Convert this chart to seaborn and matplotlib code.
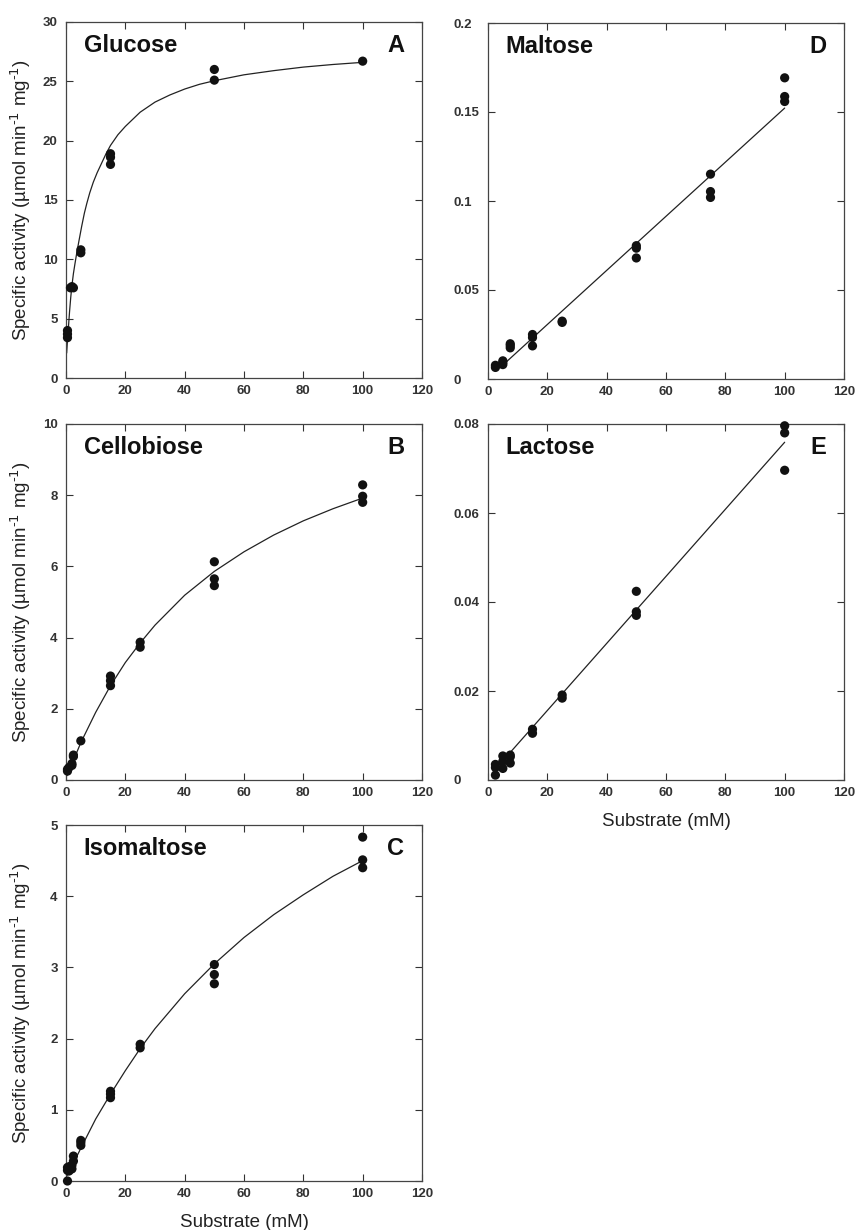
import matplotlib
matplotlib.use("Agg")
import matplotlib.pyplot as plt
import seaborn as sns

# ---------- data ----------
# x = substrate (mM), y = specific activity

# A - glucose
glc_x = [0.5, 0.5, 0.5, 1.5, 2, 2.5, 5, 5, 15, 15, 15, 50, 50, 100]
glc_y = [3.4, 3.7, 4.0, 7.6, 7.7, 7.6, 10.55, 10.8, 18.0, 18.6, 18.9, 26.0, 25.1, 26.7]
glc_fit_x = [0.22, 0.5, 0.8, 1.2, 1.6, 2.0, 2.5, 3.0, 3.6, 4.4, 5.3, 6.2, 7.0, 8.0, 9.2,
             10.5, 12, 13.5, 15, 17.5, 20, 25, 30, 35, 40, 45, 50, 60, 70, 80, 90, 100]
glc_fit_y = [2.1, 3.2, 4.2, 5.6, 6.8, 7.8, 8.8, 9.6, 10.5, 11.6, 12.8, 13.9, 14.7, 15.6, 16.5,
             17.3, 18.1, 18.9, 19.6, 20.5, 21.2, 22.4, 23.25, 23.85, 24.35, 24.75, 25.05,
             25.55, 25.9, 26.2, 26.42, 26.6]

# B - cellobiose
cel_x = [0.5, 0.5, 1, 2, 2, 2.5, 2.5, 5, 15, 15, 15, 25, 25, 50, 50, 50, 100, 100, 100]
cel_y = [0.25, 0.30, 0.35, 0.41, 0.46, 0.66, 0.70, 1.10, 2.65, 2.79, 2.92, 3.73, 3.87,
         6.13, 5.65, 5.46, 8.29, 7.97, 7.80]
cel_fit_x = [0.3, 1, 2.5, 5, 10, 15, 20, 25, 30, 40, 50, 60, 70, 80, 90, 100]
cel_fit_y = [0.12, 0.24, 0.55, 1.05, 1.9, 2.65, 3.3, 3.85, 4.35, 5.19, 5.86, 6.41, 6.88,
             7.28, 7.62, 7.92]

# C - isomaltose
iso_x = [0.5, 0.5, 0.5, 1, 1, 2, 2, 2.5, 2.5, 5, 5, 5, 15, 15, 15, 25, 25, 50, 50, 50,
         100, 100, 100]
iso_y = [0.0, 0.15, 0.19, 0.14, 0.2, 0.17, 0.22, 0.28, 0.35, 0.5, 0.54, 0.57, 1.17, 1.22,
         1.26, 1.87, 1.92, 3.04, 2.90, 2.77, 4.83, 4.51, 4.40]
iso_fit_x = [0.5, 1, 2.5, 5, 10, 15, 20, 25, 30, 40, 50, 60, 70, 80, 90, 100]
iso_fit_y = [0.08, 0.12, 0.25, 0.46, 0.87, 1.22, 1.55, 1.86, 2.14, 2.63, 3.05, 3.42, 3.74,
             4.02, 4.28, 4.50]

# D - maltose
mal_x = [2.5, 2.5, 5, 5, 5, 7.5, 7.5, 7.5, 15, 15, 15, 25, 25, 50, 50, 50,
         75, 75, 75, 100, 100, 100]
mal_y = [0.0065, 0.0077, 0.0081, 0.0092, 0.0102, 0.0175, 0.0188, 0.0198, 0.0186, 0.0233,
         0.0250, 0.0318, 0.0325, 0.0680, 0.0735, 0.0749, 0.1151, 0.1053, 0.1020,
         0.1692, 0.1587, 0.1559]
mal_fit_x = [4, 100]
mal_fit_y = [0.0063, 0.1522]

# E - lactose
lac_x = [2.5, 2.5, 2.5, 5, 5, 5, 7.5, 7.5, 7.5, 15, 15, 25, 25, 50, 50, 50, 100, 100, 100]
lac_y = [0.0011, 0.0028, 0.0035, 0.0026, 0.0042, 0.0054, 0.0038, 0.0052, 0.0056, 0.0105,
         0.0114, 0.0184, 0.0191, 0.0424, 0.0378, 0.0370, 0.0796, 0.0780, 0.0696]
lac_fit_x = [7.5, 100]
lac_fit_y = [0.0062, 0.0759]

x_ticks = [0, 20, 40, 60, 80, 100, 120]
glc_ticks = [0, 5, 10, 15, 20, 25, 30]
cel_ticks = [0, 2, 4, 6, 8, 10]
iso_ticks = [0, 1, 2, 3, 4, 5]
mal_ticks = [0, 0.05, 0.1, 0.15, 0.2]
mal_labels = ["0", "0.05", "0.1", "0.15", "0.2"]
lac_ticks = [0, 0.02, 0.04, 0.06, 0.08]
lac_labels = ["0", "0.02", "0.04", "0.06", "0.08"]

# ---------- style ----------
sns.set_theme(style="ticks")
plt.rcParams["font.family"] = ["Liberation Sans", "DejaVu Sans"]
plt.rcParams["mathtext.default"] = "regular"

fig = plt.figure(figsize=(8.58, 12.3), dpi=100)
W, H = 858, 1230
SIZE = 356


def make_ax(left, top):
    return fig.add_axes([left / W, 1 - (top + SIZE) / H, SIZE / W, SIZE / H])


panels = [
    # left, top, points, fit, yticks, ylabels, name, letter, left-aligned ticks, ylabel, xlabel
    (66, 22, glc_x, glc_y, glc_fit_x, glc_fit_y, glc_ticks, None, "Glucose", "A", False, True, False),
    (488, 23, mal_x, mal_y, mal_fit_x, mal_fit_y, mal_ticks, mal_labels, "Maltose", "D", True, False, False),
    (66, 424, cel_x, cel_y, cel_fit_x, cel_fit_y, cel_ticks, None, "Cellobiose", "B", False, True, False),
    (488, 424, lac_x, lac_y, lac_fit_x, lac_fit_y, lac_ticks, lac_labels, "Lactose", "E", True, False, True),
    (66, 825, iso_x, iso_y, iso_fit_x, iso_fit_y, iso_ticks, None, "Isomaltose", "C", False, True, True),
]

ylab = r"Specific activity (µmol min$^{\text{-1}}$ mg$^{\text{-1}}$)"

for (left, top, px, py, fx, fy, yt, yl, name, letter,
     left_ticks, show_ylab, show_xlab) in panels:
    ax = make_ax(left, top)

    sns.lineplot(x=fx, y=fy, ax=ax, color="#222222", linewidth=0.9,
                 sort=False, estimator=None)
    sns.scatterplot(x=px, y=py, ax=ax, color="#111111", s=44,
                    edgecolor="none", clip_on=False, zorder=3)

    ax.set_xlim(0, 120)
    ax.set_ylim(yt[0], yt[-1])
    ax.set_xticks(x_ticks, [str(t) for t in x_ticks], fontweight="bold")
    labels = yl if yl is not None else [str(t) for t in yt]
    ax.set_yticks(yt, labels, fontweight="bold")

    ax.tick_params(direction="in", length=5, width=0.8, top=True, right=True,
                   colors="#333333", labelsize=9.5)
    ax.tick_params(axis="x", pad=5)
    if left_ticks:
        ax.tick_params(axis="y", pad=25)
        for lab in ax.get_yticklabels():
            lab.set_horizontalalignment("left")
    else:
        ax.tick_params(axis="y", pad=6)

    for sp in ax.spines.values():
        sp.set_color("#444444")
        sp.set_linewidth(0.9)

    ax.set_xlabel("")
    ax.set_ylabel("")
    if show_ylab:
        ax.set_ylabel(ylab, fontsize=13.5, color="#222222")
        ax.yaxis.set_label_coords(-0.093, 0.5)
    if show_xlab:
        ax.set_xlabel("Substrate (mM)", fontsize=13.5, color="#222222")
        ax.xaxis.set_label_coords(0.5, -0.093)

    ax.text(0.05, 0.933, name, transform=ax.transAxes, fontsize=17,
            fontweight="bold", ha="left", va="center", color="#111111")
    ax.text(0.95, 0.933, letter, transform=ax.transAxes, fontsize=17,
            fontweight="bold", ha="right", va="center", color="#111111")

fig.savefig("out.png", dpi=100)
